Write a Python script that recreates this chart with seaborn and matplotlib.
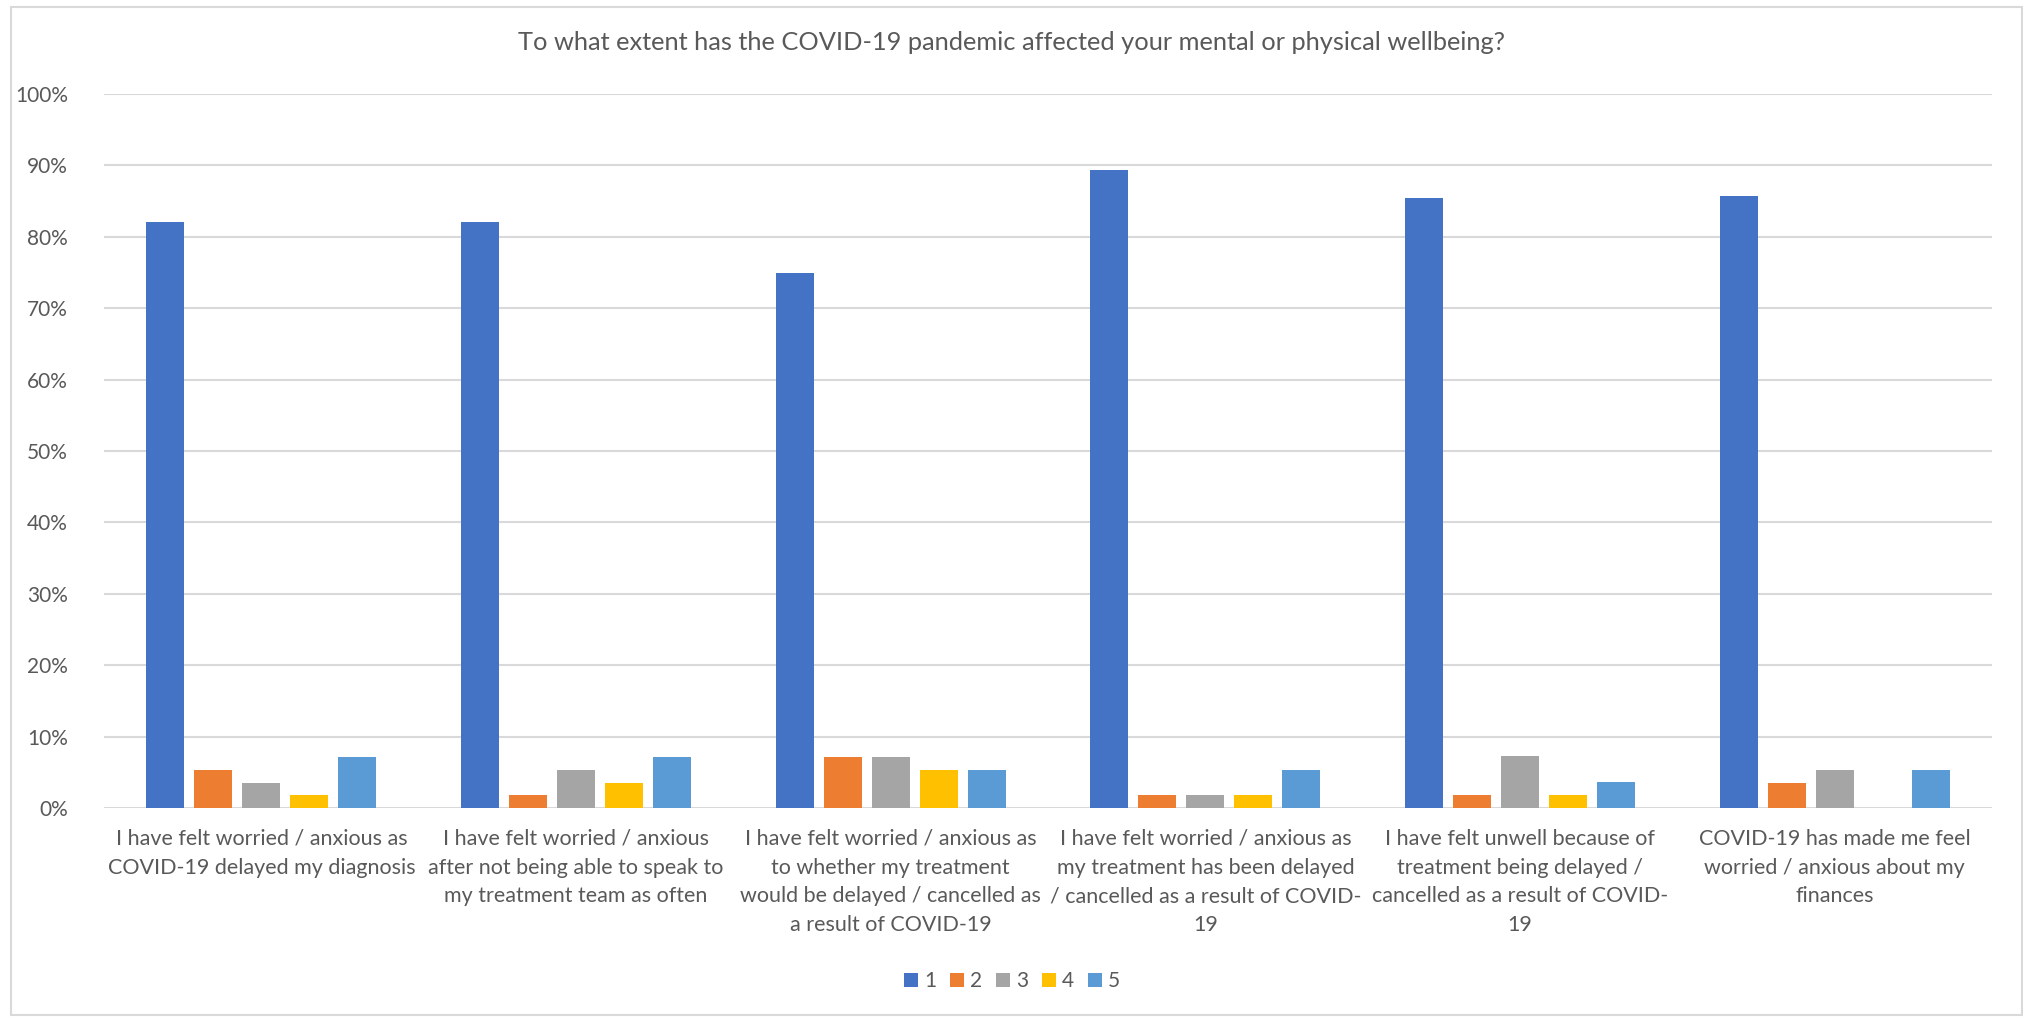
import matplotlib
matplotlib.use("Agg")
import matplotlib.pyplot as plt
import matplotlib.patches as mpatches
from matplotlib.ticker import PercentFormatter
import numpy as np
import pandas as pd
import seaborn as sns

# Survey statements (wrapped as shown on the category axis)
statements = [
    "I have felt worried / anxious as\nCOVID-19 delayed my diagnosis",
    "I have felt worried / anxious\nafter not being able to speak to\nmy treatment team as often",
    "I have felt worried / anxious as\nto whether my treatment\nwould be delayed / cancelled as\na result of COVID-19",
    "I have felt worried / anxious as\nmy treatment has been delayed\n/ cancelled as a result of COVID-\n19",
    "I have felt unwell because of\ntreatment being delayed /\ncancelled as a result of COVID-\n19",
    "COVID-19 has made me feel\nworried / anxious about my\nfinances",
]

ratings = ["1", "2", "3", "4", "5"]

# Share of respondents giving each rating, per statement
rating_1 = [0.8214, 0.8214, 0.7500, 0.8929, 0.8545, 0.8571]
rating_2 = [0.0536, 0.0179, 0.0714, 0.0179, 0.0182, 0.0357]
rating_3 = [0.0357, 0.0536, 0.0714, 0.0179, 0.0727, 0.0536]
rating_4 = [0.0179, 0.0357, 0.0536, 0.0179, 0.0182, 0.0000]
rating_5 = [0.0714, 0.0714, 0.0536, 0.0536, 0.0364, 0.0536]

colors = ["#4472C4", "#ED7D31", "#A5A5A5", "#FFC000", "#5B9BD5"]
text_color = "#595959"
grid_color = "#D9D9D9"

rows = []
for r, vals in zip(ratings, [rating_1, rating_2, rating_3, rating_4, rating_5]):
    for s, v in zip(statements, vals):
        rows.append({"Statement": s, "Rating": r, "Share": v})
df = pd.DataFrame(rows)

sns.set_theme(style="white")
plt.rcParams["font.family"] = ["Lato", "DejaVu Sans"]

fig = plt.figure(figsize=(20.24, 10.17), dpi=100)
ax = fig.add_axes([104 / 2024, 1 - 808 / 1017, (1992 - 104) / 2024, (808 - 94) / 1017])

sns.barplot(
    data=df, x="Statement", y="Share", hue="Rating",
    order=statements, hue_order=ratings, palette=colors,
    width=0.763, gap=0.21, saturation=1, ax=ax, legend=False,
    edgecolor="none",
)

ax.set_ylim(0, 1)
ax.set_yticks(np.arange(0, 1.01, 0.1))
ax.yaxis.set_major_formatter(PercentFormatter(1.0, decimals=0))
ax.set_xlim(-0.5, len(statements) - 0.5)
ax.set_xlabel("")
ax.set_ylabel("")
ax.grid(axis="y", color=grid_color, linewidth=1.5)
ax.set_axisbelow(True)
for sp in ax.spines.values():
    sp.set_visible(False)
ax.tick_params(axis="y", length=0, pad=26, labelsize=15, labelcolor=text_color)
ax.tick_params(axis="x", length=0, pad=15, labelsize=15.5, labelcolor=text_color)
for lbl in ax.get_xticklabels():
    lbl.set_linespacing(1.55)
    lbl.set_horizontalalignment("center")

fig.text(0.5, 1 - 43 / 1017, "To what extent has the COVID-19 pandemic affected your mental or physical wellbeing?",
         ha="center", va="center", fontsize=18.3, color=text_color)

handles = [mpatches.Patch(facecolor=c, edgecolor="none", label=r) for c, r in zip(colors, ratings)]
fig.legend(handles=handles, loc="center", bbox_to_anchor=(0.5, 1 - 981 / 1017), ncol=5,
           frameon=False, fontsize=15, labelcolor=text_color,
           handlelength=0.67, handleheight=0.67, handletextpad=0.3, columnspacing=0.65)

# Light chart-area border
fig.patches.append(mpatches.Rectangle((11 / 2024, 2 / 1017), (2022 - 11) / 2024, (1010 - 2) / 1017,
                                      transform=fig.transFigure, fill=False,
                                      edgecolor=grid_color, linewidth=1.5))

fig.savefig("out.png", dpi=100, facecolor="white")
